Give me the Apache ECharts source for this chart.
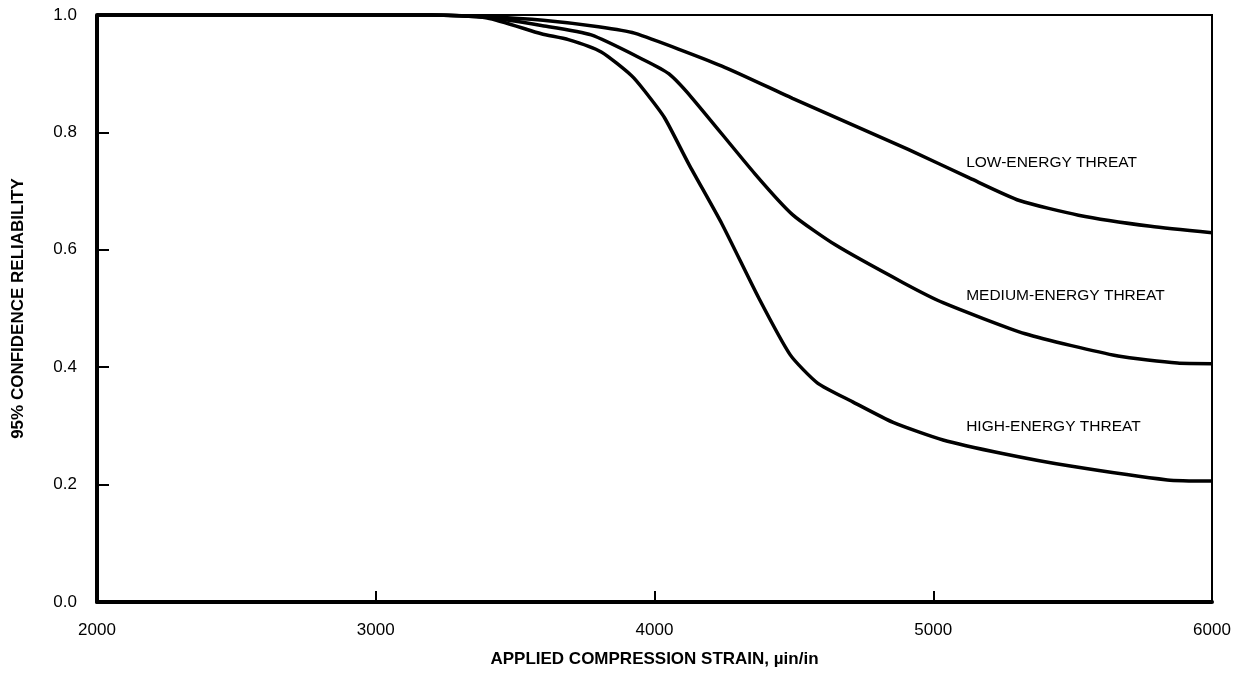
<!DOCTYPE html>
<html>
<head>
<meta charset="utf-8">
<script src="https://cdn.jsdelivr.net/npm/echarts@6/dist/echarts.min.js"></script>
<style>
  html, body { margin: 0; padding: 0; background: #fff; }
  #chart { width: 1243px; height: 673px; }
</style>
</head>
<body>
<div id="chart"></div>
<script>
// ---- data ----
const xTitle = 'APPLIED COMPRESSION STRAIN, µin/in';
const yTitle = '95% CONFIDENCE RELIABILITY';
const seriesNames = ['LOW-ENERGY THREAT', 'MEDIUM-ENERGY THREAT', 'HIGH-ENERGY THREAT'];

const xLow  = [2000, 3000, 3200, 3400, 3600, 3799, 3928, 4242, 4495, 4910, 5131, 5309, 5521, 5780, 6000];
const yLow  = [1.0, 1.0, 1.0, 0.997, 0.991, 0.980, 0.969, 0.913, 0.858, 0.771, 0.722, 0.684, 0.659, 0.640, 0.629];

const xMed  = [2000, 3000, 3200, 3400, 3594, 3773, 3964, 4051, 4134, 4361, 4495, 4650, 4892, 5035, 5330, 5663, 5876, 6000];
const yMed  = [1.0, 1.0, 1.0, 0.996, 0.982, 0.966, 0.923, 0.900, 0.859, 0.729, 0.660, 0.608, 0.544, 0.510, 0.457, 0.419, 0.407, 0.406];

const xHigh = [2000, 3000, 3200, 3400, 3594, 3691, 3809, 3917, 3964, 4036, 4123, 4242, 4375, 4487, 4585, 4711, 4856, 5035, 5248, 5486, 5840, 6000];
const yHigh = [1.0, 1.0, 1.0, 0.995, 0.968, 0.958, 0.937, 0.897, 0.871, 0.825, 0.746, 0.644, 0.517, 0.421, 0.373, 0.341, 0.306, 0.276, 0.253, 0.232, 0.208, 0.206];

// label anchor positions (data coords)
const labelX = [5118, 5118, 5118];
const labelY = [0.748, 0.521, 0.298];

// ---- build ----
const zip = (xs, ys) => xs.map((x, i) => [x, ys[i]]);
const curves = [zip(xLow, yLow), zip(xMed, yMed), zip(xHigh, yHigh)];

const FONT = 'Liberation Sans, Arial, sans-serif';

const chart = echarts.init(document.getElementById('chart'), null, { renderer: 'canvas' });
chart.setOption({
  animation: false,
  backgroundColor: '#fff',
  grid: {
    left: 97, right: 31, top: 15, bottom: 69,
    show: true, borderColor: '#000', borderWidth: 2, backgroundColor: 'transparent'
  },
  xAxis: {
    type: 'value', min: 2000, max: 6000, interval: 1000,
    name: xTitle, nameLocation: 'middle', nameGap: 49,
    nameTextStyle: { fontFamily: FONT, fontWeight: 'bold', fontSize: 17, color: '#000' },
    axisLine: { show: true, lineStyle: { color: '#000', width: 4 } },
    axisTick: { show: true, inside: true, length: 11, lineStyle: { color: '#000', width: 2 } },
    axisLabel: { margin: 20, fontFamily: FONT, fontSize: 17, color: '#000',
      formatter: v => String(v) },
    splitLine: { show: false }
  },
  yAxis: {
    type: 'value', min: 0, max: 1, interval: 0.2,
    name: yTitle, nameLocation: 'middle', nameGap: 70,
    nameTextStyle: { fontFamily: FONT, fontWeight: 'bold', fontSize: 17, color: '#000' },
    axisLine: { show: true, lineStyle: { color: '#000', width: 4 } },
    axisTick: { show: true, inside: true, length: 12, lineStyle: { color: '#000', width: 2 } },
    axisLabel: { margin: 20, fontFamily: FONT, fontSize: 17, color: '#000',
      formatter: v => v.toFixed(1) },
    splitLine: { show: false }
  },
  series: curves.map((d, i) => ({
    name: seriesNames[i],
    type: 'line',
    data: d,
    showSymbol: false,
    smooth: 0.2,
    clip: false,
    lineStyle: { color: '#000', width: 3.5 },
    markPoint: {
      symbol: 'circle', symbolSize: 0,
      data: [{ coord: [labelX[i], labelY[i]] }],
      label: {
        show: true, position: 'inside', align: 'left', verticalAlign: 'middle',
        formatter: seriesNames[i],
        fontFamily: FONT, fontSize: 15.5, color: '#000'
      }
    }
  }))
});
</script>
</body>
</html>
